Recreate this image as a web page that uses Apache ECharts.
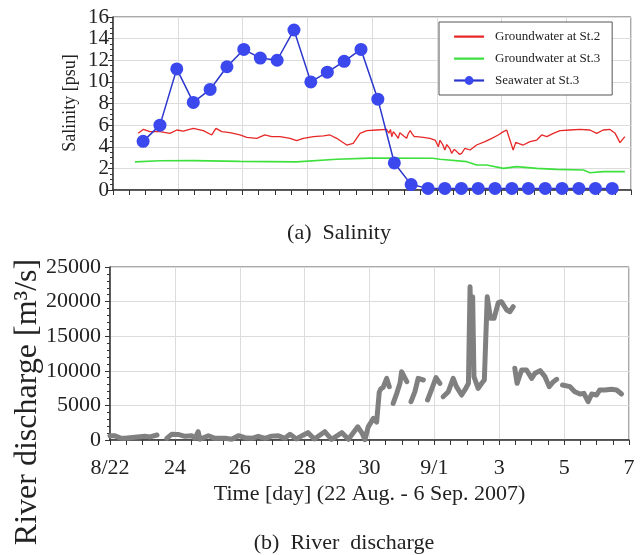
<!DOCTYPE html>
<html>
<head>
<meta charset="utf-8">
<script src="https://cdn.jsdelivr.net/npm/echarts@6/dist/echarts.min.js"></script>
<style>
html,body{margin:0;padding:0;background:#fff;}
#chart{width:642px;height:555px;}
</style>
</head>
<body>
<div id="chart"></div>
<script>
// ---- data (days counted from 22 Aug 2007 00:00) ----
const dayTickLabels = ['8/22','24','26','28','30','9/1','3','5','7'];

const st2Days = [0.78,0.94,1.14,1.45,1.76,1.97,2.17,2.48,2.79,3.05,3.18,3.36,3.61,3.92,4.13,4.44,4.69,4.90,5.16,5.47,5.67,5.88,6.19,6.50,6.70,6.91,7.22,7.42,7.63,7.84,8.15,8.45,8.52,8.57,8.61,8.66,8.71,8.76,8.81,8.86,8.92,8.98,9.07,9.12,9.18,9.23,9.30,9.38,9.58,9.79,9.95,10.05,10.10,10.15,10.20,10.25,10.31,10.36,10.41,10.46,10.54,10.62,10.70,10.77,10.87,11.03,11.23,11.49,11.70,11.90,12.06,12.16,12.26,12.36,12.44,12.52,12.67,12.88,13.09,13.24,13.40,13.60,13.81,14.12,14.42,14.73,14.94,15.14,15.35,15.51,15.66,15.81];
const st2Salinity = [5.24,5.61,5.40,5.40,5.24,5.55,5.45,5.70,5.49,5.09,5.70,5.40,5.30,5.09,4.87,4.78,5.09,4.93,4.93,4.78,4.56,4.78,4.93,5.00,5.09,4.78,4.16,4.32,5.24,5.49,5.55,5.60,5.25,5.60,4.93,5.40,5.55,5.00,4.78,5.30,5.40,5.00,4.78,5.20,5.50,5.24,4.95,4.93,4.87,4.78,4.62,4.00,4.60,4.47,4.10,3.70,4.20,4.32,3.80,3.39,3.75,3.55,3.30,3.39,3.86,3.70,4.16,4.47,4.78,5.09,5.40,5.55,4.62,3.70,4.40,4.32,4.16,4.47,4.62,5.09,4.93,5.24,5.49,5.55,5.60,5.55,5.24,5.55,5.60,5.24,4.38,4.93];

const st3Days = [0.68,1.45,2.50,3.92,5.67,6.91,7.94,9.88,10.10,10.93,11.23,11.54,12.06,12.47,13.09,13.70,14.53,14.73,15.14,15.81];
const st3Salinity = [2.60,2.70,2.72,2.65,2.60,2.84,2.95,2.93,2.84,2.62,2.31,2.31,2.00,2.16,2.00,1.91,1.85,1.60,1.70,1.70];

const seaDays = [0.93,1.45,1.97,2.48,3.00,3.52,4.04,4.55,5.07,5.59,6.11,6.62,7.14,7.66,8.18,8.69,9.21,9.73,10.25,10.76,11.28,11.80,12.32,12.83,13.35,13.87,14.39,14.90,15.42];
const seaSalinity = [4.5,6.0,11.2,8.1,9.3,11.4,13.0,12.2,12.0,14.8,10.0,10.9,11.9,13.0,8.4,2.5,0.5,0.15,0.15,0.15,0.15,0.15,0.15,0.15,0.15,0.15,0.15,0.15,0.15];

const flowDays = [0.00,0.13,0.31,0.46,0.77,1.08,1.23,1.45,1.60,
  1.75,1.90,2.10,2.31,2.52,2.62,2.72,2.77,3.03,3.24,3.55,3.75,3.96,4.16,4.37,4.57,4.78,4.98,5.19,5.39,5.55,5.75,5.95,6.10,6.30,6.62,6.83,7.15,7.35,7.64,7.77,7.86,7.96,8.12,8.22,8.30,8.35,8.42,8.53,8.61,8.66,
  8.73,8.84,8.94,8.99,9.15,9.20,
  9.28,9.40,9.50,9.66,9.72,
  9.79,9.91,10.05,10.17,10.22,
  10.27,10.43,10.58,10.68,10.84,10.94,11.05,11.10,11.15,11.18,11.22,11.35,11.46,11.54,11.63,11.73,11.84,11.97,12.07,12.23,12.33,12.43,12.46,
  12.48,12.55,12.69,12.84,13.00,13.10,13.26,13.41,13.54,13.67,13.77,13.85,
  13.95,14.18,14.33,14.49,14.61,14.74,14.85,15.00,15.10,15.26,15.46,15.62,15.77];
const flowValues = [600,620,300,240,400,530,450,720,null,
  240,820,800,530,600,240,1200,100,620,240,240,100,620,330,240,530,240,560,620,240,820,150,700,1060,150,1200,100,1060,100,1900,1000,50,1900,3130,2600,6900,7400,7600,8900,7700,null,
  5300,6740,8190,9870,8430,null,
  5540,6980,8910,8670,null,
  5780,7230,9010,8190,null,
  6260,6980,8910,7710,6500,7230,8190,22150,12040,20700,9150,7470,8190,8670,20700,17580,17580,19840,19980,18790,18540,19260,null,
  10360,8190,10120,10120,8910,9640,10020,9150,7710,8430,8770,null,
  7950,7710,6980,6650,6740,5540,6650,6500,7230,7230,7330,7230,6650];

const pairs = (xs, ys) => xs.map((x, i) => [x, ys[i]]);

const SERIF = '"Liberation Serif", "Times New Roman", serif';
const gridLine = {show: true, lineStyle: {color: '#dcdcdc', width: 1}};
const axisLine = {show: true, lineStyle: {color: '#333', width: 1.5}};
const tick = {show: true, inside: false, length: 5, lineStyle: {color: '#333', width: 1}};
const LINE_ICON = 'path://M0,0L0.1,0L0.1,0.1Z M0,4H30V6.2H0Z M29.9,9.9L30,10L29.9,10Z';

const chart = echarts.init(document.getElementById('chart'), null, {renderer: 'canvas'});
chart.setOption({
  animation: false,
  backgroundColor: '#fff',
  grid: [
    {left: 113, top: 17, width: 518, height: 173, show: true, borderColor: '#555', borderWidth: 1, backgroundColor: 'transparent'},
    {left: 110, top: 267, width: 519, height: 173, show: true, borderColor: '#555', borderWidth: 1, backgroundColor: 'transparent'}
  ],
  legend: {
    data: [
      {name: 'Groundwater at St.2', icon: LINE_ICON},
      {name: 'Groundwater at St.3', icon: LINE_ICON},
      {name: 'Seawater at St.3'}
    ],
    orient: 'vertical', left: 439, top: 22,
    backgroundColor: '#fff', borderColor: '#555', borderWidth: 1,
    padding: [8, 12, 8, 14], itemGap: 9, itemWidth: 30, itemHeight: 11,
    lineStyle: {width: 2.2},
    textStyle: {fontFamily: SERIF, fontSize: 13, color: '#222', padding: [0, 0, 0, 6]}
  },
  xAxis: [
    {gridIndex: 0, type: 'value', min: 0, max: 16, interval: 2,
      axisLine: axisLine, axisTick: tick,
      minorTick: {show: true, splitNumber: 4, length: 5, lineStyle: {color: '#333'}},
      axisLabel: {show: false}, splitLine: gridLine},
    {gridIndex: 1, type: 'value', min: 0, max: 16, interval: 2,
      axisLine: axisLine, axisTick: tick,
      minorTick: {show: true, splitNumber: 4, length: 5, lineStyle: {color: '#333'}},
      axisLabel: {show: true, margin: 17, fontFamily: SERIF, fontSize: 22, color: '#222',
        showMinLabel: true, showMaxLabel: true,
        formatter: v => dayTickLabels[Math.round(v / 2)]},
      splitLine: gridLine,
      name: 'Time [day] (22 Aug. - 6 Sep. 2007)', nameLocation: 'middle', nameGap: 43,
      nameTextStyle: {fontFamily: SERIF, fontSize: 22, color: '#222'}}
  ],
  yAxis: [
    {gridIndex: 0, type: 'value', min: 0, max: 16, interval: 2,
      axisLine: axisLine, axisTick: tick,
      minorTick: {show: true, splitNumber: 4, length: 3, lineStyle: {color: '#333'}},
      axisLabel: {margin: 4, fontFamily: SERIF, fontSize: 21, color: '#222',
        showMinLabel: true, showMaxLabel: true, formatter: v => String(v)},
      splitLine: gridLine},
    {gridIndex: 1, type: 'value', min: 0, max: 25000, interval: 5000,
      axisLine: axisLine, axisTick: tick,
      minorTick: {show: true, splitNumber: 5, length: 3, lineStyle: {color: '#333'}},
      axisLabel: {margin: 9, fontFamily: SERIF, fontSize: 22, color: '#222',
        showMinLabel: true, showMaxLabel: true, formatter: v => String(v)},
      splitLine: gridLine}
  ],
  series: [
    {name: 'Groundwater at St.2', type: 'line', xAxisIndex: 0, yAxisIndex: 0,
      data: pairs(st2Days, st2Salinity), symbol: 'none', color: '#e62828',
      lineStyle: {color: '#e62828', width: 1.3}},
    {name: 'Groundwater at St.3', type: 'line', xAxisIndex: 0, yAxisIndex: 0,
      data: pairs(st3Days, st3Salinity), symbol: 'none', color: '#3ee03e',
      lineStyle: {color: '#3ee03e', width: 1.6}},
    {name: 'Seawater at St.3', type: 'line', xAxisIndex: 0, yAxisIndex: 0,
      data: pairs(seaDays, seaSalinity), symbol: 'circle', symbolSize: 13, clip: false,
      color: '#3a48ee', itemStyle: {color: '#3a48ee'},
      lineStyle: {color: '#2a36cc', width: 1.5}, z: 5},
    {name: 'River discharge', type: 'line', xAxisIndex: 1, yAxisIndex: 1,
      data: pairs(flowDays, flowValues), symbol: 'none', connectNulls: false,
      lineStyle: {color: '#808080', width: 5, join: 'round', cap: 'round'}, color: '#808080'}
  ],
  graphic: [
    {type: 'text', x: 70, y: 103, rotation: Math.PI / 2,
      style: {text: 'Salinity [psu]', font: '18px ' + SERIF, fill: '#222', textAlign: 'center', textVerticalAlign: 'middle', verticalAlign: 'middle'}},
    {type: 'text', x: 28, y: 402, rotation: Math.PI / 2,
      style: {text: 'River discharge [m³/s]', font: '32px ' + SERIF, fill: '#222', textAlign: 'center', textVerticalAlign: 'middle', verticalAlign: 'middle'}},
    {type: 'text', x: 339, y: 233,
      style: {text: '(a)  Salinity', font: '22px ' + SERIF, fill: '#222', textAlign: 'center', textVerticalAlign: 'middle', verticalAlign: 'middle'}},
    {type: 'text', x: 344, y: 543,
      style: {text: '(b)  River  discharge', font: '22px ' + SERIF, fill: '#222', textAlign: 'center', textVerticalAlign: 'middle', verticalAlign: 'middle'}}
  ]
});
</script>
</body>
</html>
